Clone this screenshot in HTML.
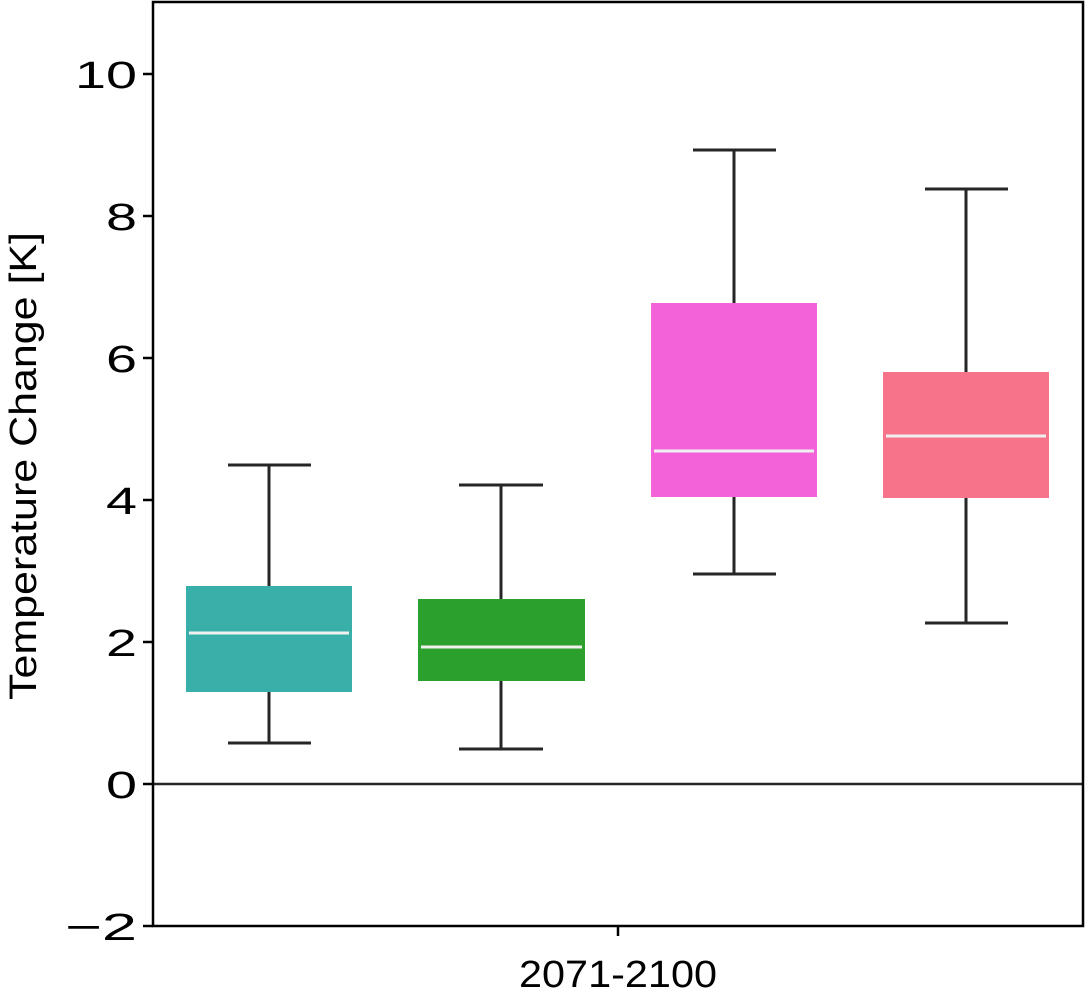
<!DOCTYPE html>
<html><head><meta charset="utf-8"><style>
html,body{margin:0;padding:0;background:#fff;}
</style></head><body>
<svg width="1085" height="999" viewBox="0 0 1085 999" xmlns="http://www.w3.org/2000/svg" font-family="Liberation Sans, DejaVu Sans, sans-serif">
<rect width="1085" height="999" fill="#fff"/>
<line x1="153" y1="784" x2="1083" y2="784" stroke="#262626" stroke-width="2.5"/>
<g stroke="#262626" stroke-width="3">
<line x1="269" y1="743" x2="269" y2="692"/><line x1="269" y1="586" x2="269" y2="465"/>
<line x1="228" y1="743" x2="311" y2="743"/><line x1="228" y1="465" x2="311" y2="465"/>
<line x1="501" y1="749" x2="501" y2="681"/><line x1="501" y1="599" x2="501" y2="485"/>
<line x1="459" y1="749" x2="543" y2="749"/><line x1="459" y1="485" x2="543" y2="485"/>
<line x1="734" y1="574" x2="734" y2="497"/><line x1="734" y1="303" x2="734" y2="150"/>
<line x1="693" y1="574" x2="776" y2="574"/><line x1="693" y1="150" x2="776" y2="150"/>
<line x1="966" y1="623" x2="966" y2="498"/><line x1="966" y1="372" x2="966" y2="189"/>
<line x1="925" y1="623" x2="1008" y2="623"/><line x1="925" y1="189" x2="1008" y2="189"/>
</g>
<rect x="186" y="586" width="166" height="106" fill="#38AFA8"/>
<rect x="418" y="599" width="167" height="82" fill="#2CA02C"/>
<rect x="651" y="303" width="166" height="194" fill="#F462DA"/>
<rect x="883" y="372" width="166" height="126" fill="#F6738A"/>
<g stroke="#f0f0f0" stroke-width="3">
<line x1="189" y1="633" x2="349" y2="633"/>
<line x1="421" y1="647" x2="582" y2="647"/>
<line x1="654" y1="451" x2="814" y2="451"/>
<line x1="886" y1="436" x2="1046" y2="436"/>
</g>
<rect x="153" y="2" width="930" height="924" fill="none" stroke="#000" stroke-width="2.5"/>
<g stroke="#000" stroke-width="2.5">
<line x1="143" y1="74" x2="153" y2="74"/><line x1="143" y1="216" x2="153" y2="216"/>
<line x1="143" y1="358" x2="153" y2="358"/><line x1="143" y1="500" x2="153" y2="500"/>
<line x1="143" y1="642" x2="153" y2="642"/><line x1="143" y1="784" x2="153" y2="784"/>
<line x1="143" y1="926" x2="153" y2="926"/>
<line x1="618" y1="926" x2="618" y2="936"/>
</g>
<g font-size="38" fill="#000" text-anchor="end">
<text x="137" y="88" textLength="62" lengthAdjust="spacingAndGlyphs">10</text>
<text x="137" y="230" textLength="31" lengthAdjust="spacingAndGlyphs">8</text>
<text x="137" y="372" textLength="31" lengthAdjust="spacingAndGlyphs">6</text>
<text x="137" y="514" textLength="31" lengthAdjust="spacingAndGlyphs">4</text>
<text x="137" y="656" textLength="31" lengthAdjust="spacingAndGlyphs">2</text>
<text x="137" y="798" textLength="31" lengthAdjust="spacingAndGlyphs">0</text>
<text x="137" y="940" textLength="72" lengthAdjust="spacingAndGlyphs">−2</text>
</g>
<text x="519" y="987" font-size="38" textLength="198" lengthAdjust="spacingAndGlyphs">2071-2100</text>
<text transform="translate(36,700) rotate(-90)" font-size="38" textLength="468" lengthAdjust="spacingAndGlyphs">Temperature Change [K]</text>
</svg>
</body></html>
